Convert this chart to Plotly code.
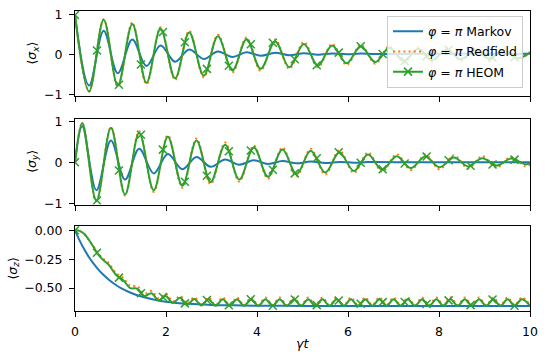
import plotly.graph_objects as go

# ---------------- data ----------------
# <sigma_x>: extrema of the oscillation
t_sx = [0, 0.31, 0.63, 0.94, 1.26, 1.57, 1.88, 2.2, 2.51, 2.83, 3.14, 3.46, 3.77, 4.08,
        4.4, 4.71, 5.03, 5.34, 5.65, 5.97, 6.28, 6.6, 6.91, 7.23, 7.54, 7.85, 8.17,
        8.48, 8.8, 9.11, 9.42, 9.74, 10.0]
heom_sx = [1.0, -0.93, 0.88, -0.78, 0.77, -0.71, 0.65, -0.60, 0.56, -0.53, 0.46, -0.40,
           0.39, -0.36, 0.33, -0.32, 0.27, -0.28, 0.23, -0.22, 0.21, -0.19, 0.17, -0.16,
           0.15, -0.14, 0.13, -0.12, 0.11, -0.10, 0.10, -0.09, 0.05]
redfield_sx = [1.0, -0.93, 0.89, -0.81, 0.81, -0.75, 0.69, -0.64, 0.60, -0.57, 0.50, -0.45,
               0.43, -0.41, 0.38, -0.36, 0.32, -0.32, 0.27, -0.26, 0.25, -0.23, 0.21, -0.20,
               0.19, -0.18, 0.17, -0.16, 0.15, -0.14, 0.14, -0.13, 0.07]
t_sx_markov = [0, 0.31, 0.63, 0.94, 1.26, 1.57, 1.88, 2.2, 2.51, 2.83, 3.14, 3.46, 3.77,
               4.08, 4.4, 4.71, 5.03, 5.34, 5.65, 5.97, 6.28, 6.6, 7.5, 8.5, 10.0]
markov_sx = [1.0, -0.78, 0.60, -0.47, 0.38, -0.29, 0.23, -0.18, 0.13, -0.11, 0.08, -0.06,
             0.06, -0.03, 0.045, -0.015, 0.035, -0.005, 0.03, 0.01, 0.025, 0.015, 0.02,
             0.02, 0.02]

# <sigma_y>
t_sy = [0, 0.16, 0.47, 0.79, 1.1, 1.41, 1.73, 2.04, 2.36, 2.67, 2.98, 3.3, 3.61, 3.93,
        4.24, 4.56, 4.87, 5.18, 5.5, 5.81, 6.13, 6.44, 6.75, 7.07, 7.38, 7.7, 8.01, 8.33,
        8.64, 8.95, 9.27, 9.58, 9.9, 10.0]
heom_sy = [0, 0.96, -0.94, 0.84, -0.78, 0.72, -0.68, 0.62, -0.57, 0.53, -0.48, 0.43, -0.42,
           0.36, -0.35, 0.31, -0.29, 0.28, -0.25, 0.24, -0.21, 0.19, -0.18, 0.15, -0.14,
           0.14, -0.12, 0.12, -0.10, 0.10, -0.08, 0.09, -0.05, -0.03]
redfield_sy = [0, 0.96, -0.94, 0.86, -0.81, 0.76, -0.72, 0.66, -0.62, 0.58, -0.53, 0.48,
               -0.47, 0.41, -0.40, 0.36, -0.34, 0.33, -0.30, 0.29, -0.26, 0.24, -0.23, 0.20,
               -0.19, 0.19, -0.17, 0.17, -0.15, 0.15, -0.13, 0.13, -0.10, -0.06]
t_sy_markov = [0, 0.16, 0.47, 0.79, 1.1, 1.41, 1.73, 2.04, 2.36, 2.67, 2.98, 3.3, 3.61,
               3.93, 4.24, 4.56, 4.87, 5.18, 5.5, 5.81, 6.13, 6.44, 7.5, 8.5, 10.0]
markov_sy = [0, 0.88, -0.68, 0.53, -0.42, 0.33, -0.27, 0.20, -0.17, 0.13, -0.11, 0.07,
             -0.06, 0.05, -0.04, 0.03, -0.025, 0.02, -0.015, 0.01, -0.01, 0.005, 0.0, 0.0, 0.0]

# <sigma_z>
t_sz = [0, 0.1, 0.2, 0.3, 0.4, 0.483, 0.6, 0.743, 0.9, 1.056, 1.21, 1.37, 1.525, 1.68,
        1.84, 1.995, 2.15, 2.31, 2.465, 2.621, 2.777, 2.934, 3.09, 3.247, 3.404, 3.56,
        3.717, 3.873, 4.03, 4.186, 4.343, 4.499, 4.656, 4.812, 4.969, 5.125, 5.282, 5.438,
        5.595, 5.751, 5.908, 6.064, 6.221, 6.377, 6.534, 6.69, 6.847, 7.003, 7.16, 7.316,
        7.473, 7.629, 7.786, 7.942, 8.099, 8.255, 8.412, 8.568, 8.725, 8.881, 9.038, 9.194,
        9.351, 9.507, 9.664, 9.82, 10.0]
heom_sz = [0, -0.005, -0.03, -0.08, -0.14, -0.195, -0.25, -0.30, -0.385, -0.43, -0.50,
           -0.505, -0.57, -0.545, -0.607, -0.57, -0.63, -0.585, -0.646, -0.595, -0.652,
           -0.597, -0.654, -0.598, -0.654, -0.598, -0.654, -0.598, -0.654, -0.598, -0.654,
           -0.598, -0.654, -0.598, -0.654, -0.598, -0.654, -0.598, -0.654, -0.598, -0.654,
           -0.598, -0.654, -0.598, -0.654, -0.598, -0.654, -0.598, -0.654, -0.598, -0.654,
           -0.598, -0.654, -0.598, -0.654, -0.598, -0.654, -0.598, -0.654, -0.598, -0.654,
           -0.598, -0.654, -0.598, -0.654, -0.598, -0.653]
redfield_sz = [0, -0.005, -0.03, -0.08, -0.135, -0.185, -0.24, -0.285, -0.37, -0.41, -0.48,
               -0.485, -0.55, -0.525, -0.59, -0.55, -0.615, -0.568, -0.635, -0.58, -0.646,
               -0.582, -0.648, -0.582, -0.648, -0.582, -0.648, -0.582, -0.648, -0.582,
               -0.648, -0.582, -0.648, -0.582, -0.648, -0.582, -0.648, -0.582, -0.648,
               -0.582, -0.648, -0.582, -0.648, -0.582, -0.648, -0.582, -0.648, -0.582,
               -0.648, -0.582, -0.648, -0.582, -0.648, -0.582, -0.648, -0.582, -0.648,
               -0.582, -0.648, -0.582, -0.648, -0.582, -0.648, -0.582, -0.648, -0.582, -0.647]
t_sz_markov = [0, 0.1, 0.2, 0.3, 0.4, 0.5, 0.6, 0.75, 0.9, 1.0, 1.25, 1.5, 1.75, 2.0, 2.5,
               3.0, 3.5, 4.0, 5.0, 6.0, 8.0, 10.0]
markov_sz = [0, -0.087, -0.163, -0.229, -0.285, -0.334, -0.377, -0.430, -0.474, -0.498,
             -0.545, -0.578, -0.601, -0.618, -0.637, -0.646, -0.650, -0.653, -0.655, -0.655,
             -0.655, -0.655]

# HEOM marker positions (every few samples) and their values
t_marks = [0, 0.483, 0.966, 1.449, 1.932, 2.415, 2.898, 3.381, 3.864, 4.347, 4.83, 5.313,
           5.796, 6.279, 6.762, 7.245, 7.728, 8.211, 8.694, 9.177, 9.66]
heom_sx_marks = [1.0, 0.105, -0.76, -0.25, 0.57, 0.31, -0.36, -0.28, 0.26, 0.30, -0.12,
                 -0.27, 0.05, 0.21, 0.015, -0.16, -0.045, 0.12, 0.063, -0.08, -0.065]
heom_sy_marks = [0, -0.93, -0.2, 0.67, 0.31, -0.475, -0.325, 0.27, 0.29, -0.18, -0.27, 0.1,
                 0.245, -0.01, -0.17, -0.03, 0.14, 0.05, -0.085, -0.055, 0.065]
heom_sz_marks = [0, -0.195, -0.41, -0.545, -0.578, -0.633, -0.604, -0.65, -0.598, -0.653,
                 -0.60, -0.648, -0.608, -0.636, -0.622, -0.621, -0.638, -0.607, -0.648,
                 -0.60, -0.653]

x_ticks = [0, 2, 4, 6, 8, 10]
y_ticks = [[-1, 0, 1], [-1, 0, 1], [0, -0.25, -0.5]]
y_titles = ["⟨<i>σ</i><sub><i>x</i></sub>⟩", "⟨<i>σ</i><sub><i>y</i></sub>⟩",
            "⟨<i>σ</i><sub><i>z</i></sub>⟩"]
x_title = "<i>γt</i>"
names = ["<i>φ</i> = <i>π</i> Markov", "<i>φ</i> = <i>π</i> Redfield",
         "<i>φ</i> = <i>π</i> HEOM"]

# ---------------- figure ----------------
BLUE, ORANGE, GREEN = "#1f77b4", "#ff7f0e", "#2ca02c"
FONT = "DejaVu Sans"

panels = [
    (t_sx_markov, markov_sx, t_sx, redfield_sx, heom_sx, heom_sx_marks),
    (t_sy_markov, markov_sy, t_sy, redfield_sy, heom_sy, heom_sy_marks),
    (t_sz_markov, markov_sz, t_sz, redfield_sz, heom_sz, heom_sz_marks),
]
y_ranges = [[-1.045, 1.1], [-1.03, 1.065], [-0.699, 0.037]]
domains = [[0.7167, 1.0], [0.3547, 0.6413], [0.0, 0.2833]]
title_pos = [(-0.0923, 0.858), (-0.095, 0.50), (-0.136, 0.142)]

fig = go.Figure()
for i, (tm, vm, th, vr, vh, vmarks) in enumerate(panels):
    xa = "x" if i == 0 else f"x{i+1}"
    ya = "y" if i == 0 else f"y{i+1}"
    first = i == 0
    fig.add_trace(go.Scatter(x=tm, y=vm, mode="lines", name=names[0], legendgroup="m",
                             showlegend=first, xaxis=xa, yaxis=ya,
                             line=dict(color=BLUE, width=2, shape="spline")))
    fig.add_trace(go.Scatter(x=th, y=vr, mode="lines", name=names[1], legendgroup="r",
                             showlegend=first, xaxis=xa, yaxis=ya,
                             line=dict(color=ORANGE, width=2, shape="spline",
                                       dash="2px,3.2px")))
    fig.add_trace(go.Scatter(x=th, y=vh, mode="lines", name=names[2], legendgroup="h",
                             showlegend=False, xaxis=xa, yaxis=ya,
                             line=dict(color=GREEN, width=2, shape="spline")))
    fig.add_trace(go.Scatter(x=t_marks, y=vmarks, mode="markers", name=names[2],
                             legendgroup="h", showlegend=False, xaxis=xa, yaxis=ya,
                             marker=dict(symbol="x-thin", size=8, color=GREEN,
                                         line=dict(width=1.5, color=GREEN))))
    if first:
        fig.add_trace(go.Scatter(x=[None], y=[None], mode="lines+markers", name=names[2],
                                 legendgroup="h", showlegend=True, xaxis=xa, yaxis=ya,
                                 line=dict(color=GREEN, width=2),
                                 marker=dict(symbol="x-thin", size=8, color=GREEN,
                                             line=dict(width=1.5, color=GREEN))))

axis_common = dict(showline=True, linecolor="black", linewidth=1, mirror=True,
                   ticks="outside", ticklen=5, tickwidth=1, tickcolor="black",
                   ticklabelstandoff=4,
                   showgrid=False, zeroline=False, automargin=False,
                   tickfont=dict(family=FONT, size=12.5, color="black"))
annotations = []
for i in range(3):
    annotations.append(dict(text=y_titles[i], xref="paper", yref="paper",
                            x=title_pos[i][0], y=title_pos[i][1], xanchor="center",
                            yanchor="middle", textangle=-90, showarrow=False,
                            font=dict(family=FONT, size=12.5, color="black")))
annotations.append(dict(text=x_title, xref="paper", yref="paper", x=0.501, y=-0.108,
                        xanchor="center", yanchor="middle", showarrow=False,
                        font=dict(family=FONT, size=12.5, color="black")))

layout = dict(
    width=550, height=363, template="none",
    margin=dict(l=75, r=20, t=11, b=52),
    paper_bgcolor="white", plot_bgcolor="white",
    font=dict(family=FONT, size=12.5, color="black"),
    showlegend=True,
    annotations=annotations,
    legend=dict(x=0.9846, y=0.985, xanchor="right", yanchor="top",
                bgcolor="rgba(255,255,255,0.8)", bordercolor="#cccccc", borderwidth=1,
                font=dict(family=FONT, size=12.5, color="black"),
                tracegroupgap=1, itemwidth=30),
)
for i in range(3):
    xk = "xaxis" if i == 0 else f"xaxis{i+1}"
    yk = "yaxis" if i == 0 else f"yaxis{i+1}"
    ya = "y" if i == 0 else f"y{i+1}"
    xa = "x" if i == 0 else f"x{i+1}"
    layout[xk] = dict(axis_common, domain=[0, 1], range=[0, 10], tickvals=x_ticks,
                      anchor=ya, showticklabels=(i == 2))
    ya_dict = dict(axis_common, domain=domains[i], range=y_ranges[i], tickvals=y_ticks[i],
                   anchor=xa)
    if i == 2:
        ya_dict["tickformat"] = ".2f"
    layout[yk] = ya_dict
fig.update_layout(**layout)
fig.write_html("out.html", config={"displayModeBar": False},
               post_script="document.body.style.margin='0';document.body.style.overflow='hidden';")
